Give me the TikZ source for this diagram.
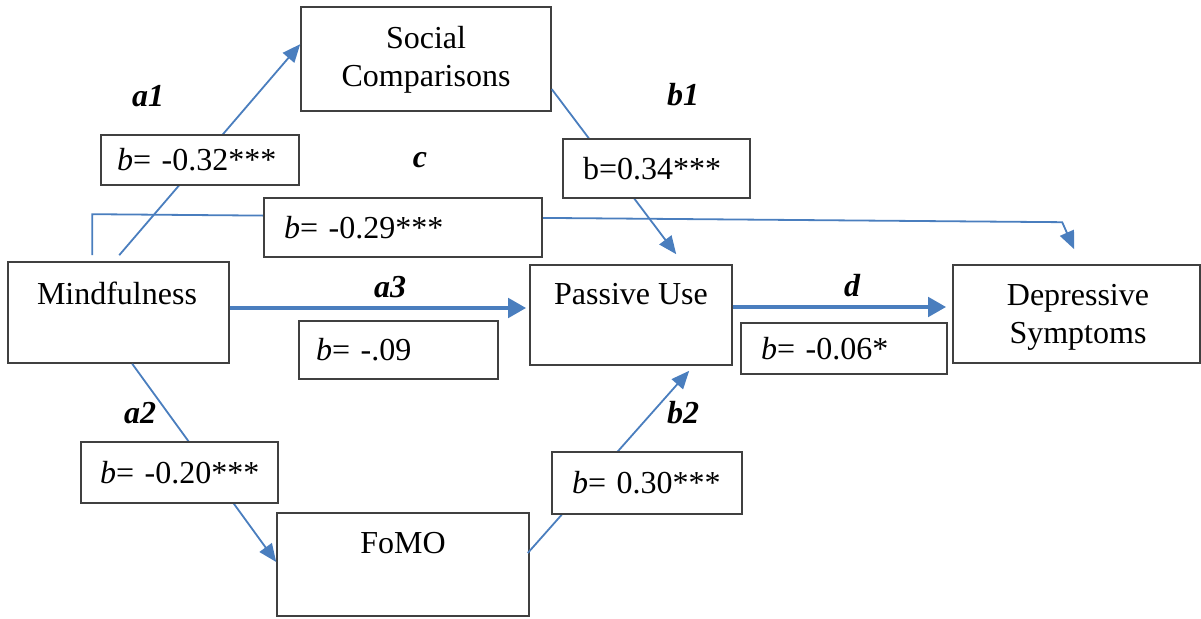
\documentclass[tikz,border=0pt]{standalone}
\usepackage{fontspec}
\setmainfont{Liberation Serif}
\usetikzlibrary{calc,arrows.meta}
\definecolor{arrowblue}{RGB}{74,126,190}
\definecolor{boxgray}{RGB}{64,64,64}
\begin{document}
\begin{tikzpicture}[x=0.5pt,y=-0.5pt,
  font=\fontsize{16}{19}\selectfont,
  mainbox/.style={draw=boxgray, line width=0.8pt, fill=white, inner sep=0pt},
  coefbox/.style={draw=boxgray, line width=0.8pt, fill=white, align=left, inner ysep=0pt},
  pathlbl/.style={font=\fontsize{16}{19}\selectfont\bfseries\itshape, inner sep=0pt},
  txt/.style={inner sep=0pt, align=center},
  paththin/.style={draw=arrowblue, line width=0.9pt, -{Triangle[length=9pt,width=7.5pt]}},
  paththick/.style={draw=arrowblue, line width=2.4pt, -{Triangle[length=9pt,width=9.5pt]}},
]
\useasboundingbox (0,0) rectangle (1201,619);

% main boxes
\node[mainbox, minimum width=125pt, minimum height=52pt] (soc) at (426,59) {};
\node[txt] (socT) at (426,60) {Social\\Comparisons};
\node[mainbox, minimum width=110.5pt, minimum height=50.5pt] (mind) at (118.5,312.5) {};
\node[txt] (mindT) at (117,293) {Mindfulness};
\node[mainbox, minimum width=101pt, minimum height=50pt] (pass) at (631,315) {};
\node[txt] (passT) at (631,294) {Passive Use};
\node[mainbox, minimum width=123.5pt, minimum height=49pt] (dep) at (1076.5,314) {};
\node[txt] (depT) at (1078,317) {Depressive\\Symptoms};
\node[mainbox, minimum width=126pt, minimum height=51.5pt] (fomo) at (403,564.5) {};
\node[txt] (fomoT) at (403,543) {FoMO};

% connectors
\draw[paththin] ($(mind.north west)+(112,-6)$) -- ($(soc.north west)+(0,38)$);
\draw[paththin] ($(soc.north east)+(0,83)$) -- ($(pass.north west)+(147,-10)$);
\draw[paththin] ($(mind.north west)+(85,-6)$) -- ++(0,-41)
   -- ($(dep.north west)+(110,-42)$) -- ($(dep.north west)+(122,-15)$);
\draw[paththick] ($(mind.east)+(0,-4.5)$) -- ($(pass.west)+(-3,-7)$);
\draw[paththick] ($(pass.east)+(0,-8)$) -- ($(dep.west)+(-6,-7)$);
\draw[paththin] ($(mind.south west)+(125,0)$) -- ($(fomo.west)+(0,-2.5)$);
\draw[paththin] ($(fomo.east)+(-2,-11.5)$) -- ($(pass.south west)+(160,5)$);

% coefficient boxes
\node[coefbox, minimum height=25pt, text width=83pt, inner xsep=8pt] (ca1) at (200,160) {\mbox{\textit{b}= -0.32***}};
\node[coefbox, minimum height=29.5pt, text width=73.5pt, inner xsep=10pt] (cb1) at (656.5,168.5) {\mbox{b=0.34***}};
\node[coefbox, minimum height=29.5pt, text width=119pt, inner xsep=10pt] (cc) at (403,227.5) {\mbox{\textit{b}= -0.29***}};
\node[coefbox, minimum height=29pt, text width=82.5pt, inner xsep=8.5pt] (ca3) at (398.5,350) {\mbox{\textit{b}= -.09}};
\node[coefbox, minimum height=25.5pt, text width=83pt, inner xsep=10pt] (cd) at (844,348.5) {\mbox{\textit{b}= -0.06*}};
\node[coefbox, minimum height=30.5pt, text width=79.5pt, inner xsep=9.5pt] (ca2) at (179.5,472.5) {\mbox{\textit{b}= -0.20***}};
\node[coefbox, minimum height=31pt, text width=75pt, inner xsep=10pt] (cb2) at (647,483) {\mbox{\textit{b}= 0.30***}};

% path labels
\node[pathlbl] (la1) at (148,96) {a1};
\node[pathlbl] (lb1) at (683,95) {b1};
\node[pathlbl] (lc) at (420,160) {c};
\node[pathlbl] (la3) at (390,287) {a3};
\node[pathlbl] (ld) at (852,286) {d};
\node[pathlbl] (la2) at (140,413) {a2};
\node[pathlbl] (lb2) at (683,413) {b2};
\end{tikzpicture}
\end{document}
